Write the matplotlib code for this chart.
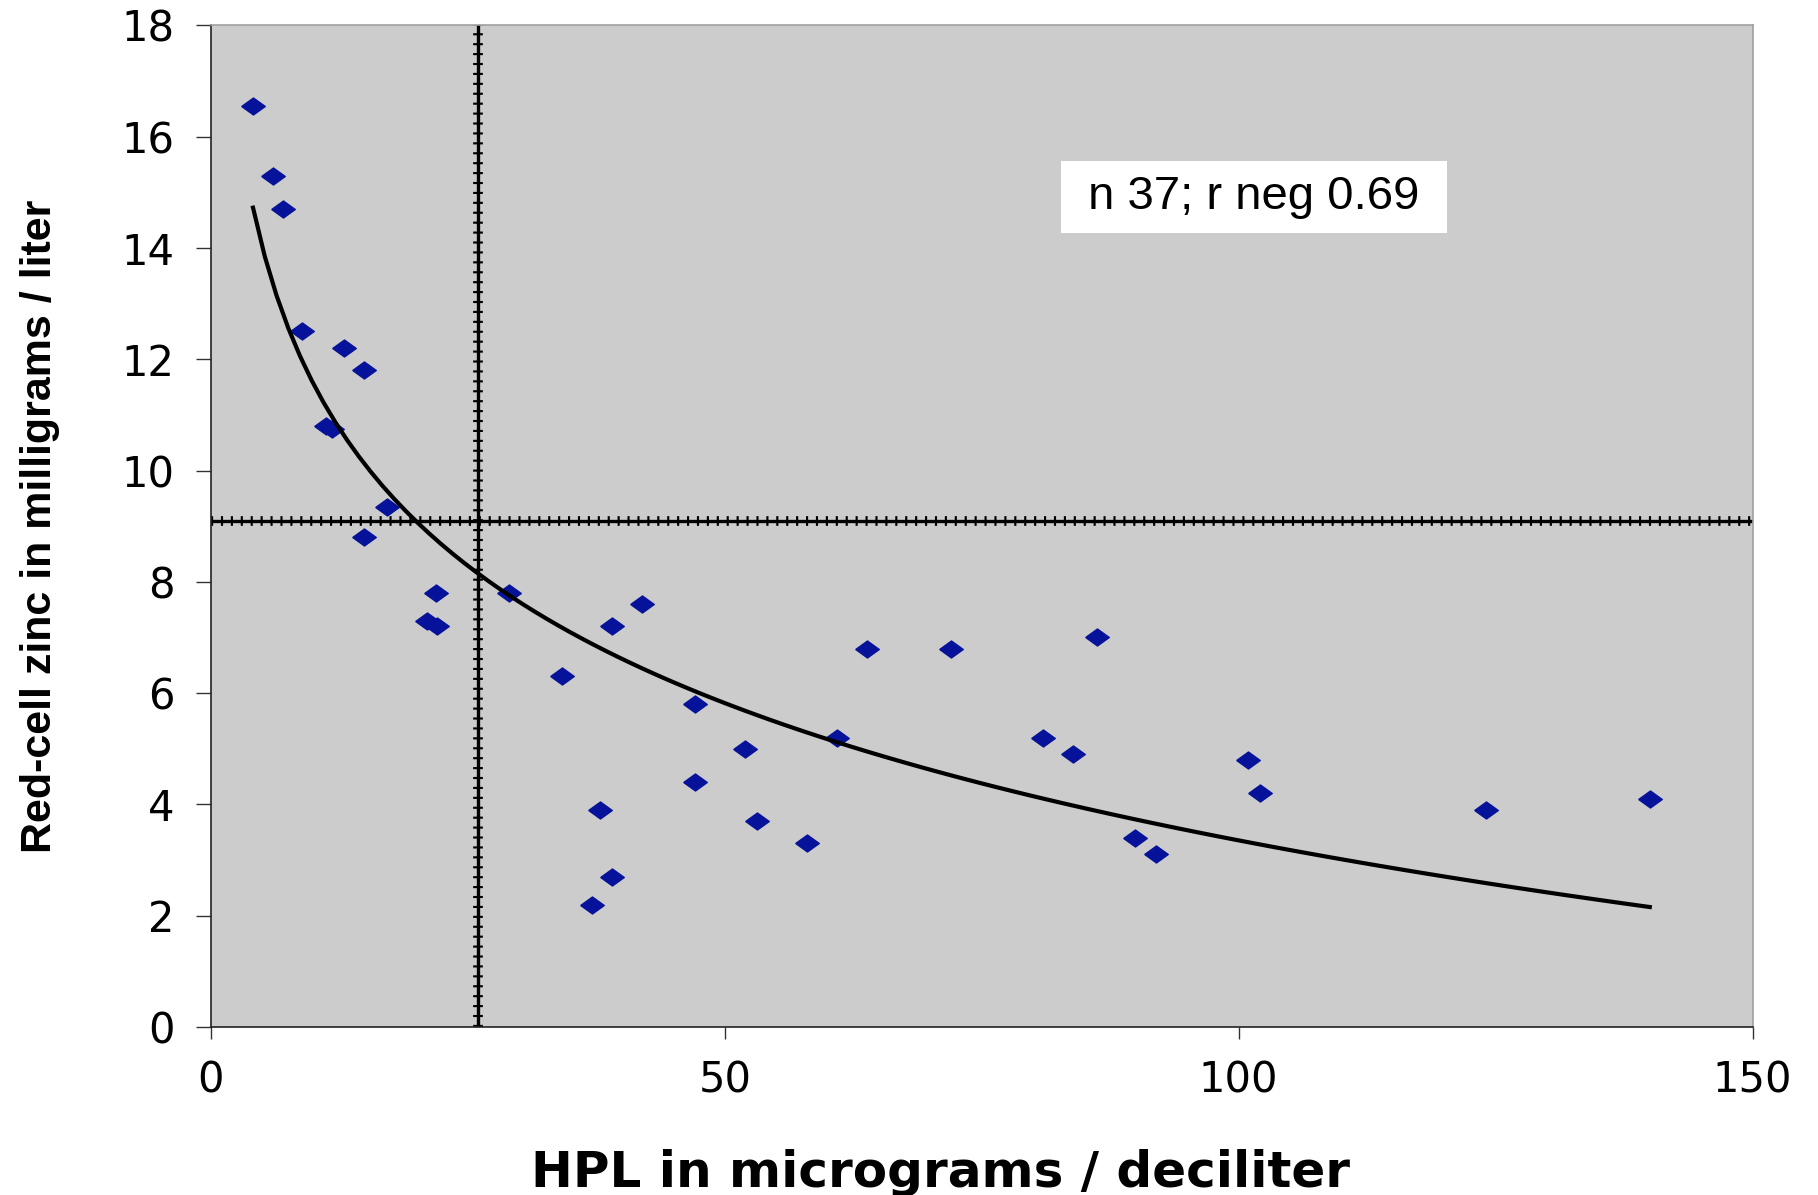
import numpy as np
from matplotlib import pyplot as plt

# HPL (x) and red-cell zinc (y)
hpl = [4.1, 6.0, 7.0, 8.9, 13.0, 14.9, 11.2, 11.8, 17.1, 14.9,
       21.9, 21.0, 22.0, 29.0, 34.2, 39.0, 41.9, 37.9, 37.1, 39.0,
       47.1, 47.1, 52.0, 53.1, 58.0, 60.9, 63.8, 72.0, 81.0, 83.9,
       86.2, 89.9, 92.0, 100.9, 102.1, 124.1, 140.0]
zinc = [16.55, 15.3, 14.7, 12.5, 12.2, 11.8, 10.8, 10.75, 9.35, 8.8,
        7.8, 7.3, 7.2, 7.8, 6.3, 7.2, 7.6, 3.9, 2.2, 2.7,
        5.8, 4.4, 5.0, 3.7, 3.3, 5.2, 6.8, 6.8, 5.2, 4.9,
        7.0, 3.4, 3.1, 4.8, 4.2, 3.9, 4.1]

hpl_cut = 26      # vertical reference line
zinc_cut = 9.1    # horizontal reference line
note = ' n 37; r neg 0.69 '

x_ticks = [0, 50, 100, 150]
y_ticks = [0, 2, 4, 6, 8, 10, 12, 14, 16, 18]

# logarithmic trend line (Excel style) fitted to the points
b, a = np.polyfit(np.log(hpl), zinc, 1)
tx = np.linspace(min(hpl), max(hpl), 120)
ty = a + b * np.log(tx)

fig = plt.figure(figsize=(18.18, 11.95), dpi=100)
ax = fig.add_axes([0.116, 0.1406, 0.848, 0.8381])
ax.set_facecolor('#cccccc')

diamond = [(-1, 0), (0, 0.72), (1, 0), (0, -0.72), (-1, 0)]
ax.plot(hpl, zinc, linestyle='none', marker=diamond, markersize=17,
        color='#06129a', zorder=3)
ax.plot(tx, ty, color='black', lw=3, zorder=4)

# jagged-looking reference lines
for style in [dict(lw=2.4), dict(lw=7, ls=(0, (0.22, 0.8)))]:
    ax.axvline(hpl_cut, color='black', zorder=2, **style)
    ax.axhline(zinc_cut, color='black', zorder=2, **style)

ax.text(101.5, 14.92, note, fontsize=34, family='Liberation Sans',
        ha='center', va='center', zorder=5,
        bbox=dict(boxstyle='square,pad=0.3', fc='white', ec='none'))

ax.set_xlim(0, 150)
ax.set_ylim(0, 18)
ax.set_xticks(x_ticks)
ax.set_yticks(y_ticks)
ax.tick_params(axis='both', direction='out', color='#333333', width=1,
               labelsize=30, pad=15)
ax.tick_params(axis='y', length=11)
ax.tick_params(axis='x', length=8.5)
for lab in ax.get_xticklabels() + ax.get_yticklabels():
    lab.set_family('DejaVu Sans')

for side in ['left', 'bottom']:
    ax.spines[side].set_color('#222222')
    ax.spines[side].set_linewidth(1.2)
for side in ['right', 'top']:
    ax.spines[side].set_color('#a0a0a0')
    ax.spines[side].set_linewidth(1.2)

ax.set_xlabel('HPL in micrograms / deciliter', fontsize=36,
              fontweight='bold', family='DejaVu Sans')
ax.xaxis.set_label_coords(0.473, -0.122)
ax.set_ylabel('Red-cell zinc in milligrams / liter', fontsize=31,
              fontweight='bold', family='Liberation Sans')
ax.yaxis.set_label_coords(-0.098, 0.5)

plt.savefig('out.png', dpi=100)
